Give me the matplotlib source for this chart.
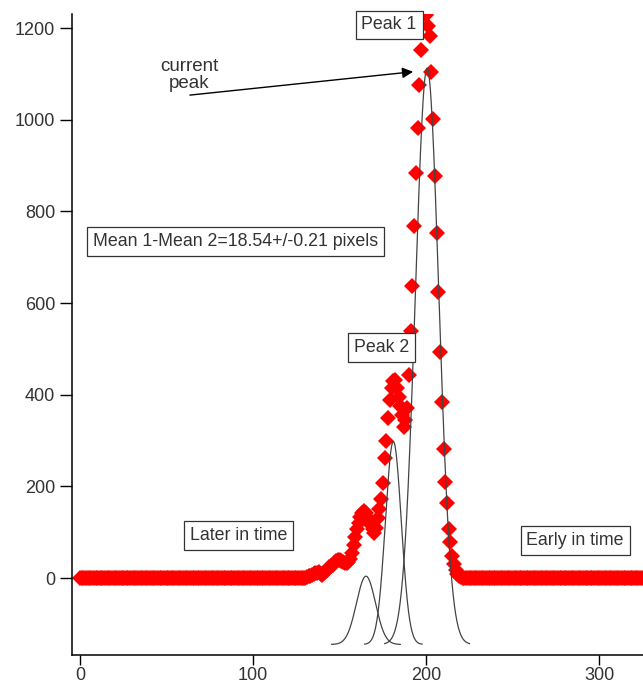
import numpy as np
import matplotlib.pyplot as plt

# ----------------------------
# DATA
# ----------------------------
# flat baseline on both sides of the peaks
left_x = list(range(0, 131))
left_y = [0] * len(left_x)
right_x = list(range(222, 330))
right_y = [0] * len(right_x)

# peak region, one point per pixel column
peak_x = list(range(131, 222))
peak_y = [
    2, 4, 5, 7, 9, 11, 12, 13, 9, 6,              # 131-140
    10, 15, 20, 24, 27, 29, 33, 37, 39, 40,       # 141-150
    38, 35, 33, 32, 35, 42, 55, 72, 90, 106,      # 151-160
    120, 133, 142, 146, 141, 133, 125, 116, 106, 98,   # 161-170
    110, 130, 150, 172, 207, 261, 300, 350, 389, 415,  # 171-180
    429, 432, 414, 395, 376, 356, 330, 345, 370, 443,  # 181-190
    540, 638, 769, 883, 982, 1076, 1153, 1250, 1290, 1229,  # 191-200
    1204, 1182, 1105, 1002, 878, 753, 624, 493, 385, 281,   # 201-210
    210, 163, 108, 79, 47, 30, 17, 9, 4, 2,        # 211-220
    0,                                             # 221
]

# gaussian fit components (drawn with an offset baseline)
FIT_CENTER = [200.5, 181.0, 165.2]
FIT_AMP = [1258, 443, 149]
FIT_SIGMA = [6.8, 4.6, 5.5]
FIT_OFFSET = -145

# ----------------------------
# PLOT
# ----------------------------
plt.rcParams["font.family"] = ["Liberation Sans", "DejaVu Sans"]
TXT = "#333333"
FS = 12.8

fig = plt.figure(figsize=(6.43, 6.84), dpi=100)
ax = fig.add_axes([72 / 643, 1 - 655 / 684, 571 / 643, 641 / 684])

xs = left_x + peak_x + right_x
ys = left_y + peak_y + right_y
ax.plot(xs, ys, linestyle="none", marker="D", markersize=8,
        color="#ff0000", markeredgewidth=0, zorder=2)

for c, a, s in zip(FIT_CENTER, FIT_AMP, FIT_SIGMA):
    gx = np.linspace(c - 3.6 * s, c + 3.6 * s, 200)
    gy = FIT_OFFSET + a * np.exp(-0.5 * ((gx - c) / s) ** 2)
    ax.plot(gx, gy, color="#444444", linewidth=0.9, zorder=3)

ax.set_xlim(-4.6, 325.2)
ax.set_ylim(-168, 1231)
ax.set_xticks([0, 100, 200, 300])
ax.set_yticks([0, 200, 400, 600, 800, 1000, 1200])

for side in ["top", "right"]:
    ax.spines[side].set_visible(False)
for side in ["left", "bottom"]:
    ax.spines[side].set_linewidth(1.1)
ax.tick_params(axis="y", length=9, width=1.0, labelsize=13, labelcolor=TXT, pad=3)
ax.tick_params(axis="x", length=7, width=1.0, labelsize=13, labelcolor=TXT, pad=2)

box = dict(boxstyle="square,pad=0.33", facecolor="white", edgecolor="#333333",
           linewidth=0.9)
ax.text(178.5, 1207, "Peak 1", ha="center", va="center", fontsize=FS,
        color=TXT, bbox=box, zorder=5)
ax.text(174, 503, "Peak 2", ha="center", va="center", fontsize=FS,
        color=TXT, bbox=box, zorder=5)
ax.text(90, 734, "Mean 1-Mean 2=18.54+/-0.21 pixels", ha="center", va="center",
        fontsize=FS, color=TXT, bbox=box, zorder=5)
ax.text(91.5, 93, "Later in time", ha="center", va="center", fontsize=FS,
        color=TXT, bbox=box, zorder=5)
ax.text(286, 82, "Early in time", ha="center", va="center", fontsize=FS,
        color=TXT, bbox=box, zorder=5)

ax.text(63, 1098, "current\npeak", ha="center", va="center", fontsize=13.5,
        color=TXT, linespacing=1.0)
ax.annotate("", xy=(192.4, 1105), xytext=(63.5, 1054),
            arrowprops=dict(arrowstyle="-|>", color="black", lw=1.0,
                            mutation_scale=16, shrinkA=0, shrinkB=0))

fig.savefig("out.png", dpi=100)
